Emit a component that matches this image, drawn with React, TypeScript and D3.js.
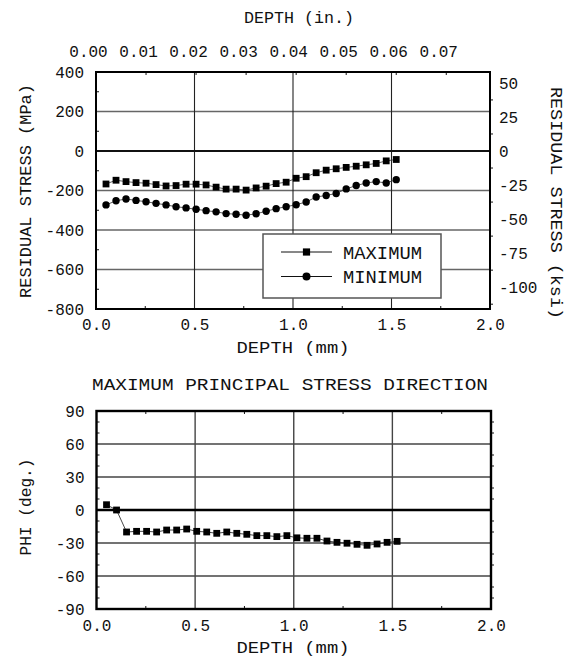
import React, { useRef, useEffect } from 'react';
import * as d3 from 'd3';

// depth of each measurement (inches)
const depthIn = [
  0.002, 0.004, 0.006, 0.008, 0.010, 0.012, 0.014, 0.016, 0.018, 0.020,
  0.022, 0.024, 0.026, 0.028, 0.030, 0.032, 0.034, 0.036, 0.038, 0.040,
  0.042, 0.044, 0.046, 0.048, 0.050, 0.052, 0.054, 0.056, 0.058, 0.060,
];
// residual stress, MPa
const maxStress = [
  -167, -148, -155, -160, -163, -170, -177, -175, -168, -168,
  -172, -183, -193, -193, -198, -187, -178, -165, -158, -138,
  -130, -110, -97, -90, -83, -77, -70, -63, -50, -43,
];
const minStress = [
  -273, -252, -243, -250, -257, -265, -273, -282, -288, -295,
  -302, -308, -317, -320, -325, -318, -305, -292, -282, -272,
  -258, -233, -225, -215, -192, -175, -162, -155, -162, -145,
];
// principal direction, degrees
const phiDeg = [
  4.8, 0, -20, -19.4, -19.4, -20, -18.2, -18.2, -17.3, -19.4,
  -20, -21.2, -20, -21.2, -22.1, -23.3, -23.3, -24.2, -23.3, -25.3,
  -25.7, -25.7, -28.2, -29.4, -30.2, -31.2, -32.1, -30.9, -29.4, -28.5,
];

const mmTicks = [0, 0.5, 1.0, 1.5, 2.0];
const mmMinor = [0.25, 0.75, 1.25, 1.75];
const inTicks = [0, 0.01, 0.02, 0.03, 0.04, 0.05, 0.06, 0.07];
const mpaTicks = [400, 200, 0, -200, -400, -600, -800];
const mpaMinor = [300, 100, -100, -300, -500, -700];
const ksiTicks = [50, 25, 0, -25, -50, -75, -100];
const ksiMinor = [37.5, 12.5, -12.5, -37.5, -62.5, -87.5, -112.5];
const phiTicks = [90, 60, 30, 0, -30, -60, -90];
const phiMinor = [80, 70, 50, 40, 20, 10, -10, -20, -40, -50, -70, -80];

const MPA_PER_KSI = 6.895;
const FONT = "'Liberation Mono', 'DejaVu Sans Mono', monospace";
const INK = '#111';
const TICK_SIZE = 16;

const App = () => {
  const svgRef = useRef<SVGSVGElement>(null);

  useEffect(() => {
    const svg = d3.select(svgRef.current);
    svg.selectAll('*').remove();

    const depthMm = depthIn.map(d => d * 25.4);

    const addText = (txt, x, y, size, len, rotate = 0) => {
      svg.append('text')
        .attr('transform', `translate(${x},${y}) rotate(${rotate})`)
        .attr('text-anchor', 'middle')
        .attr('font-size', size)
        .attr('fill', INK)
        .attr('textLength', len)
        .attr('lengthAdjust', 'spacingAndGlyphs')
        .text(txt);
    };

    const styleAxis = (g, size) => {
      g.attr('font-family', FONT).attr('font-size', size);
      g.select('.domain').remove();
      g.selectAll('text').attr('fill', INK);
    };

    // ================= top chart: residual stress =================
    const x = d3.scaleLinear().domain([0, 2]).range([96, 490]);
    const xIn = d3.scaleLinear().domain([0, 2 / 25.4]).range([96, 490]);
    const y = d3.scaleLinear().domain([-800, 400]).range([309, 72]);
    const yKsi = d3.scaleLinear()
      .domain([-800 / MPA_PER_KSI, 400 / MPA_PER_KSI])
      .range([309, 72]);

    const top = svg.append('g');

    // gridlines
    top.selectAll('.hgrid')
      .data(mpaTicks.filter(v => v !== 400 && v !== -800 && v !== 0))
      .join('line')
      .attr('x1', x(0)).attr('x2', x(2))
      .attr('y1', d => y(d)).attr('y2', d => y(d))
      .attr('stroke', '#666').attr('stroke-width', 1.3);
    top.selectAll('.vgrid')
      .data(mmTicks.slice(1, -1))
      .join('line')
      .attr('x1', d => x(d)).attr('x2', d => x(d))
      .attr('y1', y(400)).attr('y2', y(-800))
      .attr('stroke', '#222').attr('stroke-width', 1.1);
    top.append('line')
      .attr('x1', x(0)).attr('x2', x(2))
      .attr('y1', y(0)).attr('y2', y(0))
      .attr('stroke', '#111').attr('stroke-width', 1.8);

    // minor ticks
    top.selectAll('.lt').data(mpaMinor).join('line')
      .attr('x1', x(0)).attr('x2', x(0) + 3)
      .attr('y1', d => y(d)).attr('y2', d => y(d))
      .attr('stroke', INK);
    top.selectAll('.rt').data(ksiMinor).join('line')
      .attr('x1', x(2)).attr('x2', x(2) + 3)
      .attr('y1', d => yKsi(d)).attr('y2', d => yKsi(d))
      .attr('stroke', INK);
    top.selectAll('.bt').data(mmMinor).join('line')
      .attr('x1', d => x(d)).attr('x2', d => x(d))
      .attr('y1', y(-800)).attr('y2', y(-800) - 3)
      .attr('stroke', INK);
    top.selectAll('.tt').data(inTicks.slice(1)).join('line')
      .attr('x1', d => xIn(d)).attr('x2', d => xIn(d))
      .attr('y1', y(400)).attr('y2', y(400) + 3)
      .attr('stroke', INK);

    // frame
    top.append('rect')
      .attr('x', x(0)).attr('y', y(400))
      .attr('width', x(2) - x(0)).attr('height', y(-800) - y(400))
      .attr('fill', 'none').attr('stroke', '#000').attr('stroke-width', 2);

    // axes
    top.append('g')
      .attr('transform', `translate(${x(0)},0)`)
      .call(d3.axisLeft(y).tickValues(mpaTicks).tickSize(0).tickPadding(12).tickFormat(d => String(d)))
      .call(g => styleAxis(g, TICK_SIZE));
    top.append('g')
      .attr('transform', `translate(${x(2)},0)`)
      .call(d3.axisRight(yKsi).tickValues(ksiTicks).tickSize(0).tickPadding(9).tickFormat(d => String(d)))
      .call(g => styleAxis(g, TICK_SIZE));
    top.append('g')
      .attr('transform', `translate(0,${y(-800)})`)
      .call(d3.axisBottom(x).tickValues(mmTicks).tickSize(0).tickPadding(10).tickFormat(d3.format('.1f')))
      .call(g => styleAxis(g, TICK_SIZE));
    top.append('g')
      .attr('transform', `translate(0,${y(400)})`)
      .call(d3.axisTop(xIn).tickValues(inTicks).tickSize(0).tickPadding(15).tickFormat(d3.format('.2f')))
      .call(g => styleAxis(g, TICK_SIZE))
      .call(g => g.selectAll('text').attr('dx', -8));

    // series
    const lineMax = d3.line<number>().x((d, i) => x(depthMm[i])).y(d => y(d));
    top.append('path').datum(maxStress)
      .attr('d', lineMax).attr('fill', 'none').attr('stroke', '#333').attr('stroke-width', 0.8);
    top.append('path').datum(minStress)
      .attr('d', lineMax).attr('fill', 'none').attr('stroke', '#333').attr('stroke-width', 0.8);
    top.selectAll('.sq').data(maxStress).join('rect')
      .attr('x', (d, i) => x(depthMm[i]) - 3.4).attr('y', d => y(d) - 3.4)
      .attr('width', 6.8).attr('height', 6.8).attr('fill', '#000');
    top.selectAll('.ci').data(minStress).join('circle')
      .attr('cx', (d, i) => x(depthMm[i])).attr('cy', d => y(d))
      .attr('r', 3.7).attr('fill', '#000');

    // legend
    const leg = top.append('g').attr('transform', 'translate(263,234)');
    leg.append('rect').attr('width', 178).attr('height', 64)
      .attr('fill', '#fff').attr('stroke', '#555').attr('stroke-width', 1.5);
    const legItems = [
      { label: 'MAXIMUM', shape: 'square' },
      { label: 'MINIMUM', shape: 'circle' },
    ];
    legItems.forEach((it, k) => {
      const ly = 18 + k * 24.5;
      leg.append('line').attr('x1', 18).attr('x2', 69).attr('y1', ly).attr('y2', ly)
        .attr('stroke', '#111').attr('stroke-width', 1);
      if (it.shape === 'square') {
        leg.append('rect').attr('x', 43.5 - 3.6).attr('y', ly - 3.6)
          .attr('width', 7.2).attr('height', 7.2).attr('fill', '#000');
      } else {
        leg.append('circle').attr('cx', 43.5).attr('cy', ly).attr('r', 4).attr('fill', '#000');
      }
      leg.append('text').attr('x', 80).attr('y', ly + 6.5)
        .attr('font-size', 18).attr('fill', INK)
        .attr('textLength', 79).attr('lengthAdjust', 'spacingAndGlyphs')
        .text(it.label);
    });

    addText('DEPTH (in.)', 299, 23, 16.5, 110);
    addText('RESIDUAL STRESS (MPa)', 31, 191, 16.5, 214, -90);
    addText('RESIDUAL STRESS (ksi)', 551, 203, 16.5, 232, 90);
    addText('DEPTH (mm)', 293, 353, 16.5, 113);

    // ================= bottom chart: principal direction =================
    const x2 = d3.scaleLinear().domain([0, 2]).range([96.5, 491]);
    const y2 = d3.scaleLinear().domain([-90, 90]).range([609, 411]);
    const bot = svg.append('g');

    bot.selectAll('.hgrid')
      .data(phiTicks.filter(v => Math.abs(v) !== 90 && v !== 0))
      .join('line')
      .attr('x1', x2(0)).attr('x2', x2(2))
      .attr('y1', d => y2(d)).attr('y2', d => y2(d))
      .attr('stroke', '#444').attr('stroke-width', 1.4);
    bot.selectAll('.vgrid')
      .data(mmTicks.slice(1, -1))
      .join('line')
      .attr('x1', d => x2(d)).attr('x2', d => x2(d))
      .attr('y1', y2(90)).attr('y2', y2(-90))
      .attr('stroke', '#444').attr('stroke-width', 1.4);
    bot.append('line')
      .attr('x1', x2(0)).attr('x2', x2(2))
      .attr('y1', y2(0)).attr('y2', y2(0))
      .attr('stroke', '#000').attr('stroke-width', 2.6);

    bot.selectAll('.lt').data(phiMinor).join('line')
      .attr('x1', x2(0)).attr('x2', x2(0) + 3)
      .attr('y1', d => y2(d)).attr('y2', d => y2(d))
      .attr('stroke', INK);
    bot.selectAll('.rt').data(phiMinor).join('line')
      .attr('x1', x2(2)).attr('x2', x2(2) + 3)
      .attr('y1', d => y2(d)).attr('y2', d => y2(d))
      .attr('stroke', INK);
    bot.selectAll('.bt').data(mmMinor).join('line')
      .attr('x1', d => x2(d)).attr('x2', d => x2(d))
      .attr('y1', y2(-90)).attr('y2', y2(-90) - 3)
      .attr('stroke', INK);
    bot.selectAll('.tt').data(mmMinor).join('line')
      .attr('x1', d => x2(d)).attr('x2', d => x2(d))
      .attr('y1', y2(90)).attr('y2', y2(90) + 3)
      .attr('stroke', INK);

    bot.append('rect')
      .attr('x', x2(0)).attr('y', y2(90))
      .attr('width', x2(2) - x2(0)).attr('height', y2(-90) - y2(90))
      .attr('fill', 'none').attr('stroke', '#000').attr('stroke-width', 2.4);

    bot.append('g')
      .attr('transform', `translate(${x2(0)},0)`)
      .call(d3.axisLeft(y2).tickValues(phiTicks).tickSize(0).tickPadding(12).tickFormat(d => String(d)))
      .call(g => styleAxis(g, TICK_SIZE));
    bot.append('g')
      .attr('transform', `translate(0,${y2(-90)})`)
      .call(d3.axisBottom(x2).tickValues(mmTicks).tickSize(0).tickPadding(11).tickFormat(d3.format('.1f')))
      .call(g => styleAxis(g, TICK_SIZE));

    const linePhi = d3.line<number>().x((d, i) => x2(depthMm[i])).y(d => y2(d));
    bot.append('path').datum(phiDeg)
      .attr('d', linePhi).attr('fill', 'none').attr('stroke', '#333').attr('stroke-width', 0.9);
    bot.selectAll('.sq').data(phiDeg).join('rect')
      .attr('x', (d, i) => x2(depthMm[i]) - 3.4).attr('y', d => y2(d) - 3.4)
      .attr('width', 6.8).attr('height', 6.8).attr('fill', '#000');

    addText('MAXIMUM  PRINCIPAL STRESS DIRECTION', 290, 390, 16.5, 396);
    addText('PHI (deg.)', 31, 507, 16.5, 97, -90);
    addText('DEPTH (mm)', 293, 653, 16.5, 113);
  }, []);

  return (
    <div style={{ position: 'absolute', left: 0, top: 0 }}>
      <svg ref={svgRef} width={574} height={660} style={{ display: 'block', background: '#fff', fontFamily: FONT }} />
    </div>
  );
};

export default App;
